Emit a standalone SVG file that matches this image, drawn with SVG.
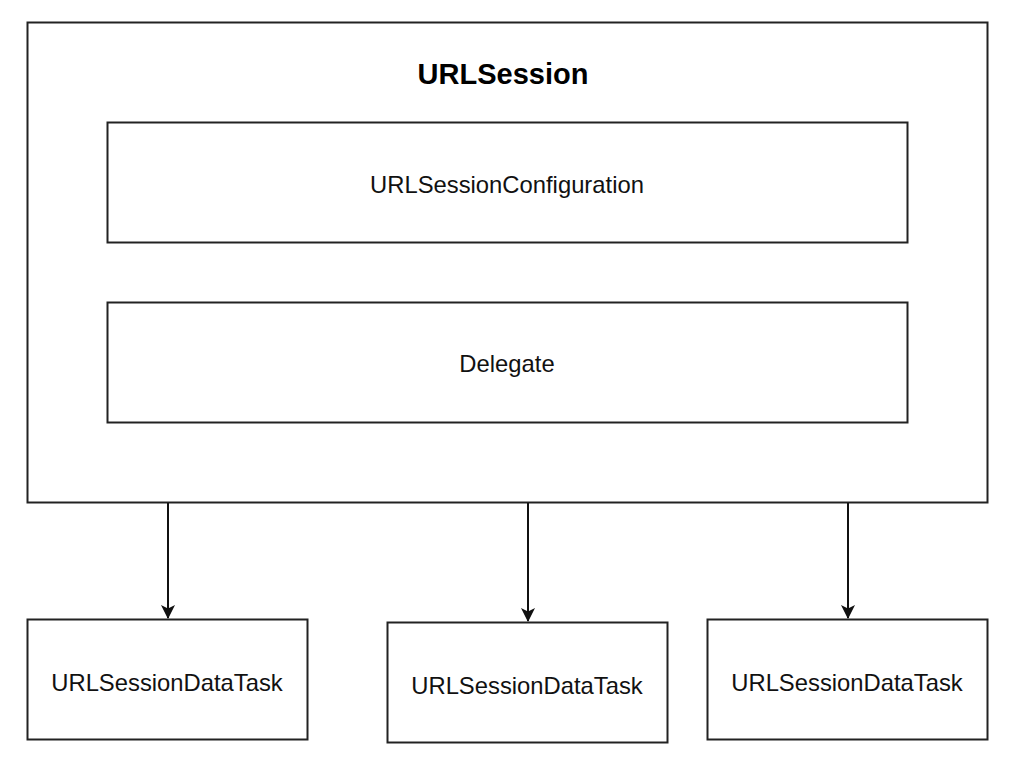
<svg xmlns="http://www.w3.org/2000/svg" width="1020" height="764" viewBox="0 0 1020 764">
<style>
.box{fill:#fff;stroke:#222;stroke-width:2}
.lbl{font-family:"Liberation Sans",Arial,sans-serif;font-size:23.8px;fill:#111;text-anchor:middle}
.title{font-family:"Liberation Sans",Arial,sans-serif;font-size:29px;font-weight:bold;fill:#000;text-anchor:middle}
.edge{stroke:#111;stroke-width:2;fill:none}
</style>
<defs>
<marker id="arr" markerWidth="16" markerHeight="16" refX="13" refY="7" orient="auto" markerUnits="userSpaceOnUse">
<path d="M0,0 L14,7 L0,14 L3.5,7 Z" fill="#111"/>
</marker>
</defs>
<rect width="1020" height="764" fill="#fff"/>
<g id="session">
<rect class="box" x="27.5" y="22.5" width="960" height="480"/>
<text class="title" x="503" y="84">URLSession</text>
</g>
<g id="config">
<rect class="box" x="107.5" y="122.5" width="800" height="120"/>
<text class="lbl" x="507" y="193">URLSessionConfiguration</text>
</g>
<g id="delegate">
<rect class="box" x="107.5" y="302.5" width="800" height="120"/>
<text class="lbl" x="507" y="372">Delegate</text>
</g>
<g id="task1">
<rect class="box" x="27.5" y="619.5" width="280" height="120"/>
<text class="lbl" x="167" y="691">URLSessionDataTask</text>
</g>
<g id="task2">
<rect class="box" x="387.5" y="622.5" width="280" height="120"/>
<text class="lbl" x="527" y="694">URLSessionDataTask</text>
</g>
<g id="task3">
<rect class="box" x="707.5" y="619.5" width="280" height="120"/>
<text class="lbl" x="847" y="691">URLSessionDataTask</text>
</g>
<g id="connectors">
<line class="edge" x1="168" y1="503" x2="168" y2="618" marker-end="url(#arr)"/>
<line class="edge" x1="528" y1="503" x2="528" y2="621" marker-end="url(#arr)"/>
<line class="edge" x1="848" y1="503" x2="848" y2="618" marker-end="url(#arr)"/>
</g>
</svg>
